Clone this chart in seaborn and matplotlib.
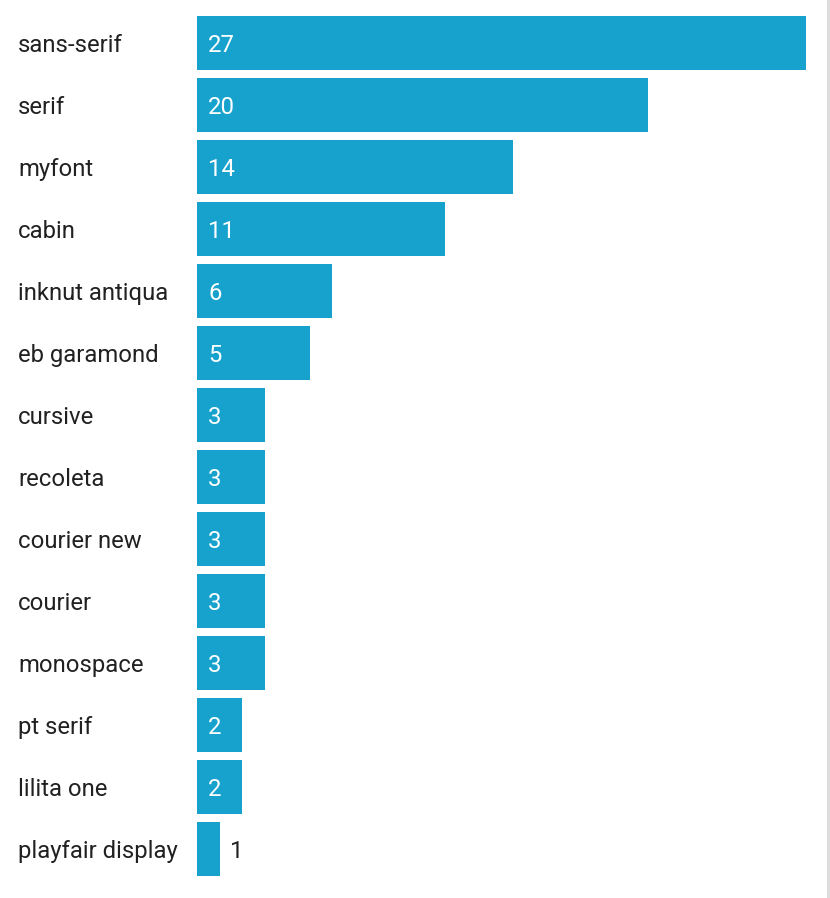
import pandas as pd
import matplotlib.pyplot as plt
import matplotlib.transforms as mtransforms
import seaborn as sns
from matplotlib.patches import Rectangle

fonts = ["sans-serif", "serif", "myfont", "cabin", "inknut antiqua", "eb garamond",
         "cursive", "recoleta", "courier new", "courier", "monospace", "pt serif",
         "lilita one", "playfair display"]
counts = [27, 20, 14, 11, 6, 5, 3, 3, 3, 3, 3, 2, 2, 1]

df = pd.DataFrame({"font": fonts, "count": counts})

sns.set_theme(style="white")
plt.rcParams["font.family"] = ["Roboto", "DejaVu Sans"]

W, H = 830, 898
fig = plt.figure(figsize=(W / 100, H / 100), dpi=100)
ax = fig.add_axes([197 / W, 18 / H, 609 / W, 868 / H])

sns.barplot(data=df, x="count", y="font", color="#17a2ce", saturation=1,
            width=54 / 62, linewidth=0, ax=ax)

ax.set_xlim(0, 27)
ax.set_ylim(len(fonts) - 0.5, -0.5)
ax.set_xlabel("")
ax.set_ylabel("")
ax.set_xticks([])
ax.set_yticks([])
for s in ax.spines.values():
    s.set_visible(False)

text_color = "#212121"
fs = 17.2
dy = -2
trans = mtransforms.blended_transform_factory(fig.transFigure, ax.transData)
for i, (name, v) in enumerate(zip(fonts, counts)):
    ax.annotate(name, xy=(18 / W, i), xycoords=trans, xytext=(0, dy),
                textcoords="offset pixels", fontsize=fs, color=text_color,
                ha="left", va="center", annotation_clip=False)
    if v >= 2:
        ax.annotate(str(v), xy=(0, i), xytext=(11, dy), textcoords="offset pixels",
                    color="white", fontsize=fs, ha="left", va="center")
    else:
        ax.annotate(str(v), xy=(v, i), xytext=(10, dy), textcoords="offset pixels",
                    color=text_color, fontsize=fs, ha="left", va="center")

# thin grey border at right edge
fig.patches.append(Rectangle((827 / W, 0), 3 / W, 1, transform=fig.transFigure,
                             facecolor="#dcdcdc", edgecolor="none"))

fig.savefig("out.png", dpi=100)
